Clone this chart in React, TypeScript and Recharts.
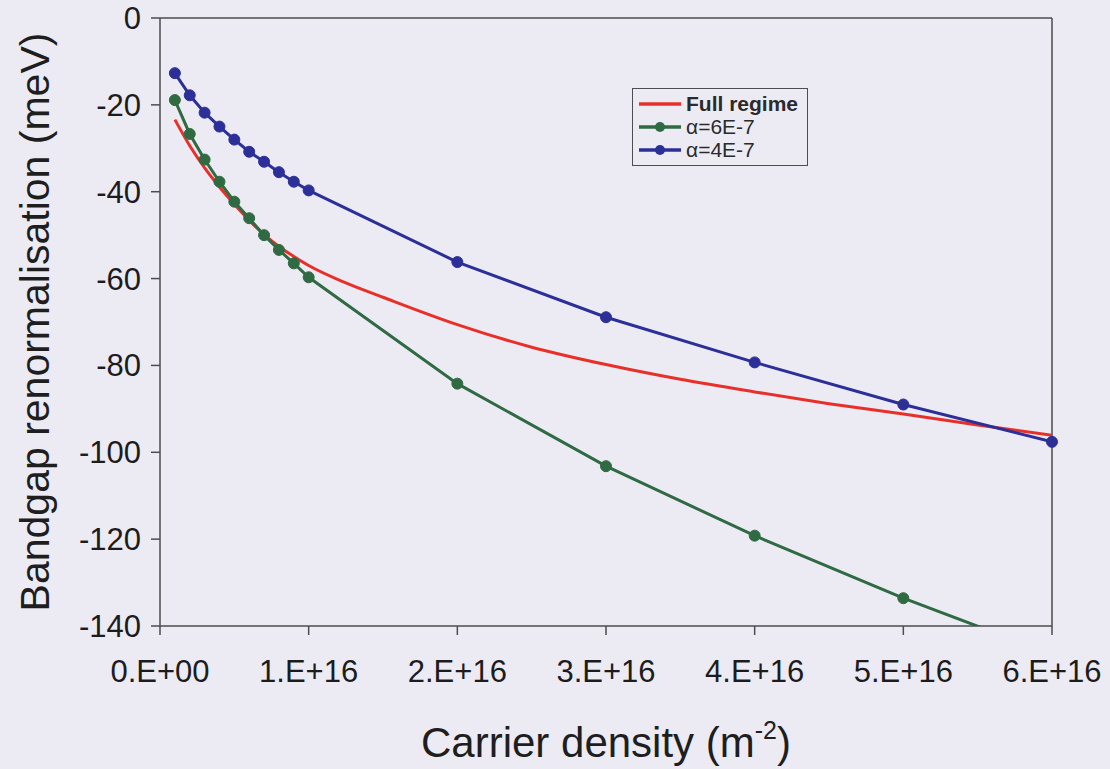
import { LineChart, Line, XAxis, YAxis, ReferenceLine, Legend } from 'recharts'

const FONT = '"Liberation Sans", Arial, sans-serif'
const RED = '#e8302a'
const GREEN = '#2f6a43'
const BLUE = '#2c2f98'
const AXIS = '#4d4d4d'

// carrier density (m^-2) where the alpha series have markers
const markedDensity = [
  1e15, 2e15, 3e15, 4e15, 5e15, 6e15, 7e15, 8e15, 9e15, 1e16, 2e16, 3e16, 4e16, 5e16, 6e16,
]
const alpha6Values = [
  -18.9, -26.7, -32.6, -37.7, -42.3, -46.1, -50.0, -53.4, -56.5, -59.7, -84.2, -103.2, -119.2,
  -133.6, -146.5,
]
const alpha4Values = [
  -12.7, -17.8, -21.8, -25.0, -28.0, -30.8, -33.1, -35.5, -37.7, -39.7, -56.2, -68.9, -79.3,
  -89.0, -97.6,
]

// full regime curve (no markers)
const fullDensity = [
  1e15, 2e15, 3e15, 4e15, 5e15, 6e15, 7e15, 8e15, 9e15, 1e16, 1.25e16, 1.5e16, 2e16, 2.5e16, 3e16,
  3.5e16, 4e16, 4.5e16, 5e16, 5.5e16, 6e16,
]
const fullValues = [
  -23.4, -29.4, -34.5, -38.9, -42.9, -46.6, -49.9, -52.6, -54.9, -57.0, -61.0, -64.3, -70.6, -75.8,
  -79.8, -83.2, -86.1, -88.8, -91.2, -93.7, -96.1,
]

const xTicks = [0, 1e16, 2e16, 3e16, 4e16, 5e16, 6e16]
const xTickLabels = ['0.E+00', '1.E+16', '2.E+16', '3.E+16', '4.E+16', '5.E+16', '6.E+16']
const yTicks = [-140, -120, -100, -80, -60, -40, -20, 0]

const seriesNames = ['Full regime', 'α=6E-7', 'α=4E-7']

const toPoints = (xs: number[], ys: number[]) => xs.map((x, i) => ({ x, y: ys[i] }))

const fullData = toPoints(fullDensity, fullValues)
const alpha6Data = toPoints(markedDensity, alpha6Values)
const alpha4Data = toPoints(markedDensity, alpha4Values)

const hasMarker: Record<string, boolean> = {
  [seriesNames[0]]: false,
  [seriesNames[1]]: true,
  [seriesNames[2]]: true,
}

function LegendBox({ payload }: any) {
  const items = [...(payload || [])].sort(
    (a: any, b: any) => seriesNames.indexOf(a.value) - seriesNames.indexOf(b.value)
  )
  return (
    <div style={{ border: `1.5px solid ${AXIS}`, padding: '3px 6px 4px 6px' }}>
      {items.map((entry: any) => (
        <div
          key={entry.value}
          style={{ display: 'flex', alignItems: 'center', height: 23, fontFamily: FONT }}
        >
          <svg width={42} height={20} style={{ marginRight: 5 }}>
            <line x1={0} y1={10} x2={42} y2={10} stroke={entry.color} strokeWidth={3.5} />
            {hasMarker[entry.value] && <circle cx={21} cy={10} r={5} fill={entry.color} />}
          </svg>
          <span
            style={{
              fontSize: 21,
              color: '#2a2a2a',
              fontWeight: entry.value === seriesNames[0] ? 700 : 400,
            }}
          >
            {entry.value}
          </span>
        </div>
      ))}
    </div>
  )
}

function XTitle({ viewBox }: any) {
  const cx = viewBox.x + viewBox.width / 2
  return (
    <text x={cx} y={757} textAnchor="middle" fontSize={42} fill="#1e1e1e" fontFamily={FONT}>
      Carrier density (m
      <tspan fontSize={25} dy={-18}>
        -2
      </tspan>
      <tspan dy={18}>)</tspan>
    </text>
  )
}

function YTitle({ viewBox }: any) {
  const cy = viewBox.y + viewBox.height / 2
  const cx = 35
  return (
    <text
      x={cx}
      y={cy}
      transform={`rotate(-90, ${cx}, ${cy})`}
      textAnchor="middle"
      dominantBaseline="central"
      fontSize={41}
      fill="#1e1e1e"
      fontFamily={FONT}
    >
      Bandgap renormalisation (meV)
    </text>
  )
}

export default function App() {
  const tickStyle = { fontSize: 31, fill: '#1c1c1c', fontFamily: FONT }
  return (
    <div
      style={{
        position: 'absolute',
        left: 0,
        top: 0,
        width: 1110,
        height: 769,
        background: '#ecebf4',
        fontFamily: FONT,
      }}
    >
      <LineChart width={1110} height={769} margin={{ top: 18, right: 58, left: 0, bottom: 0 }}>
        <XAxis
          dataKey="x"
          type="number"
          domain={[0, 6e16]}
          ticks={xTicks}
          tickFormatter={(v: number) => xTickLabels[xTicks.indexOf(v)]}
          tick={tickStyle}
          tickSize={9}
          tickMargin={25}
          height={143}
          axisLine={{ stroke: AXIS, strokeWidth: 1.5 }}
          tickLine={{ stroke: AXIS, strokeWidth: 1.5 }}
          allowDataOverflow
          label={<XTitle />}
        />
        <YAxis
          dataKey="y"
          type="number"
          domain={[-140, 0]}
          ticks={yTicks}
          tick={tickStyle}
          tickSize={9}
          tickMargin={10}
          width={160}
          axisLine={{ stroke: AXIS, strokeWidth: 1.5 }}
          tickLine={{ stroke: AXIS, strokeWidth: 1.5 }}
          allowDataOverflow
          label={<YTitle />}
        />
        <ReferenceLine y={0} stroke={AXIS} strokeWidth={1.5} />
        <ReferenceLine x={6e16} stroke={AXIS} strokeWidth={1.5} />
        <Legend
          layout="vertical"
          align="center"
          verticalAlign="middle"
          content={<LegendBox />}
          wrapperStyle={{ left: 632, top: 88, width: 176 }}
        />
        <Line
          data={fullData}
          dataKey="y"
          name={seriesNames[0]}
          type="monotone"
          stroke={RED}
          strokeWidth={3}
          dot={false}
          activeDot={false}
          isAnimationActive={false}
        />
        <Line
          data={alpha6Data}
          dataKey="y"
          name={seriesNames[1]}
          type="linear"
          stroke={GREEN}
          strokeWidth={3}
          dot={{ r: 5.5, fill: GREEN, stroke: GREEN, strokeWidth: 1, clipDot: false }}
          activeDot={false}
          isAnimationActive={false}
        />
        <Line
          data={alpha4Data}
          dataKey="y"
          name={seriesNames[2]}
          type="linear"
          stroke={BLUE}
          strokeWidth={3}
          dot={{ r: 5.5, fill: BLUE, stroke: BLUE, strokeWidth: 1, clipDot: false }}
          activeDot={false}
          isAnimationActive={false}
        />
      </LineChart>
    </div>
  )
}
